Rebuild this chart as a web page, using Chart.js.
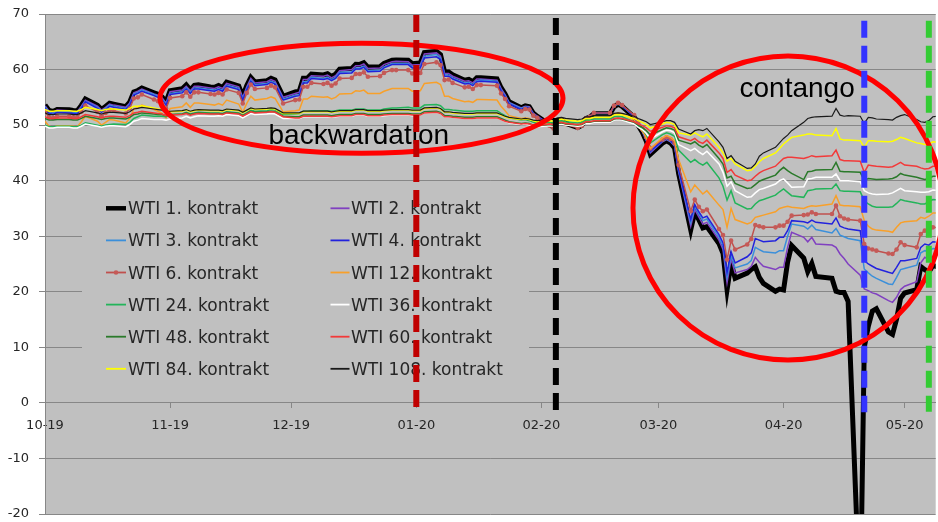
<!DOCTYPE html>
<html>
<head>
<meta charset="utf-8">
<script src="https://cdn.jsdelivr.net/npm/chart.js@4.4.1/dist/chart.umd.min.js"></script>
<style>
  html, body { margin: 0; padding: 0; background: #ffffff; }
  #wrap { width: 938px; height: 522px; position: relative; }
</style>
</head>
<body>
<div id="wrap"><canvas id="chart" width="938" height="522"></canvas></div>
<script>
// Trading days, Oct 2019 - May 2020
const dates = [
  '2019-10-01','2019-10-02','2019-10-03','2019-10-04','2019-10-07','2019-10-08','2019-10-09','2019-10-10','2019-10-11','2019-10-14','2019-10-15','2019-10-16','2019-10-17','2019-10-18','2019-10-21','2019-10-22','2019-10-23','2019-10-24','2019-10-25','2019-10-28','2019-10-29','2019-10-30','2019-10-31',
  '2019-11-01','2019-11-04','2019-11-05','2019-11-06','2019-11-07','2019-11-08','2019-11-11','2019-11-12','2019-11-13','2019-11-14','2019-11-15','2019-11-18','2019-11-19','2019-11-20','2019-11-21','2019-11-22','2019-11-25','2019-11-26','2019-11-27','2019-11-29',
  '2019-12-02','2019-12-03','2019-12-04','2019-12-05','2019-12-06','2019-12-09','2019-12-10','2019-12-11','2019-12-12','2019-12-13','2019-12-16','2019-12-17','2019-12-18','2019-12-19','2019-12-20','2019-12-23','2019-12-24','2019-12-26','2019-12-27','2019-12-30','2019-12-31',
  '2020-01-02','2020-01-03','2020-01-06','2020-01-07','2020-01-08','2020-01-09','2020-01-10','2020-01-13','2020-01-14','2020-01-15','2020-01-16','2020-01-17','2020-01-21','2020-01-22','2020-01-23','2020-01-24','2020-01-27','2020-01-28','2020-01-29','2020-01-30','2020-01-31',
  '2020-02-03','2020-02-04','2020-02-05','2020-02-06','2020-02-07','2020-02-10','2020-02-11','2020-02-12','2020-02-13','2020-02-14','2020-02-18','2020-02-19','2020-02-20','2020-02-21','2020-02-24','2020-02-25','2020-02-26','2020-02-27','2020-02-28',
  '2020-03-02','2020-03-03','2020-03-04','2020-03-05','2020-03-06','2020-03-09','2020-03-10','2020-03-11','2020-03-12','2020-03-13','2020-03-16','2020-03-17','2020-03-18','2020-03-19','2020-03-20','2020-03-23','2020-03-24','2020-03-25','2020-03-26','2020-03-27','2020-03-30','2020-03-31',
  '2020-04-01','2020-04-02','2020-04-03','2020-04-06','2020-04-07','2020-04-08','2020-04-09','2020-04-13','2020-04-14','2020-04-15','2020-04-16','2020-04-17','2020-04-20','2020-04-21','2020-04-22','2020-04-23','2020-04-24','2020-04-27','2020-04-28','2020-04-29','2020-04-30',
  '2020-05-01','2020-05-04','2020-05-05','2020-05-06','2020-05-07','2020-05-08','2020-05-11'
];

// Settlement prices (USD/bbl) per contract month on the futures curve
const wti1 = [
  53.62,52.64,52.45,52.81,52.75,52.63,52.59,53.55,54.70,53.59,52.81,53.36,53.93,53.78,53.31,54.16,55.97,56.23,56.66,55.81,55.54,55.06,54.18,
  56.20,56.54,57.23,56.35,57.15,57.24,56.86,56.80,57.12,56.77,57.72,57.05,55.21,57.11,58.58,57.77,58.01,58.41,58.11,55.17,
  55.96,56.10,58.43,58.43,59.20,59.02,59.24,58.76,59.18,60.07,60.21,60.94,60.93,61.22,60.44,60.52,61.11,61.68,61.72,61.68,61.06,
  61.18,63.05,63.27,62.70,59.61,59.56,59.04,58.08,58.23,57.81,58.52,58.54,58.34,56.74,55.59,54.19,53.14,53.48,53.33,52.14,51.56,
  50.11,49.61,50.75,50.95,50.32,49.57,49.94,51.17,51.42,52.05,52.05,53.29,53.78,53.38,51.43,49.90,48.73,47.09,44.76,
  46.75,47.18,46.78,45.90,41.28,31.13,34.36,32.98,31.50,31.73,28.70,26.95,20.37,25.22,22.43,23.36,24.01,24.49,22.60,21.51,20.09,20.48,
  20.31,25.32,28.34,26.08,23.63,25.09,22.76,22.41,20.11,19.87,19.87,18.27,-37.63,10.01,13.78,16.50,16.94,12.78,12.34,15.06,18.84,
  19.78,20.39,24.56,23.99,23.55,24.74,24.14
];
const wti2 = [
  53.5,52.5,52.3,52.7,52.6,52.5,52.4,53.4,54.5,53.4,52.7,53.2,53.8,53.6,53.2,54.0,55.8,56.1,56.5,55.6,55.4,54.9,54.0,
  56.0,56.3,57.0,56.2,57.0,57.0,56.7,56.6,56.9,56.6,57.5,56.9,55.0,56.9,58.4,57.6,57.8,58.2,57.9,55.0,
  55.7,55.9,58.2,58.2,58.9,58.8,59.0,58.5,58.9,59.8,60.0,60.7,60.7,61.0,60.2,60.3,60.9,61.4,61.5,61.4,60.8,
  60.9,62.8,63.0,62.4,59.3,59.3,58.8,57.9,58.0,57.6,58.3,58.3,58.1,56.6,55.5,54.1,53.1,53.4,53.3,52.1,51.6,
  50.2,49.7,50.8,51.0,50.4,49.7,50.1,51.3,51.6,52.2,52.2,53.4,53.9,53.5,51.5,50.0,48.8,47.2,45.0,
  47.0,47.4,47.0,46.2,41.6,31.8,34.8,33.5,32.2,32.5,29.3,27.6,21.6,25.9,23.4,24.0,24.6,26.2,25.3,24.6,24.0,24.4,
  24.4,28.0,30.7,29.8,29.0,29.8,28.6,28.4,28.0,26.8,26.0,25.0,23.0,20.5,20.2,19.8,19.6,18.4,18.1,19.0,20.4,
  21.0,21.8,25.2,26.2,25.8,26.4,26.0
];
const wti3 = [
  53.3,52.3,52.1,52.5,52.4,52.3,52.2,53.2,54.3,53.2,52.5,53.0,53.6,53.4,53.0,53.8,55.6,55.9,56.3,55.5,55.2,54.7,53.8,
  55.7,56.0,56.7,55.9,56.7,56.7,56.4,56.3,56.6,56.3,57.2,56.6,54.7,56.6,58.1,57.3,57.5,57.9,57.6,54.7,
  55.4,55.5,57.8,57.8,58.6,58.4,58.6,58.2,58.6,59.5,59.6,60.3,60.3,60.6,59.8,59.9,60.5,61.1,61.1,61.1,60.5,
  60.6,62.4,62.7,62.1,59.1,59.0,58.5,57.6,57.7,57.3,58.0,58.1,57.9,56.4,55.3,54.0,53.0,53.3,53.2,52.0,51.4,
  50.1,49.6,50.8,51.0,50.4,49.6,50.0,51.2,51.5,52.1,52.1,53.4,53.8,53.4,51.6,50.1,48.9,47.3,45.2,
  47.1,47.5,47.1,46.3,41.8,32.4,35.3,34.0,32.8,33.1,29.8,28.2,22.6,26.5,24.3,25.0,25.6,28.0,27.6,27.2,27.0,27.4,
  27.4,30.0,32.2,31.8,31.3,32.0,31.2,30.6,31.4,30.2,29.9,29.6,29.2,24.1,23.4,22.8,22.4,21.4,21.3,22.6,24.0,
  24.2,24.8,27.0,27.4,27.2,27.8,27.5
];
const wti4 = [
  53.1,52.1,51.9,52.3,52.2,52.1,52.0,53.0,54.2,53.0,52.3,52.8,53.4,53.2,52.8,53.6,55.4,55.7,56.1,55.3,55.0,54.5,53.6,
  55.5,55.8,56.5,55.7,56.5,56.5,56.2,56.1,56.4,56.1,57.0,56.4,54.5,56.4,57.9,57.1,57.3,57.7,57.4,54.5,
  55.2,55.3,57.6,57.6,58.4,58.2,58.4,58.0,58.4,59.3,59.4,60.1,60.1,60.4,59.6,59.7,60.3,60.9,60.9,60.9,60.3,
  60.3,62.1,62.3,61.8,58.8,58.8,58.3,57.4,57.5,57.1,57.8,57.9,57.7,56.2,55.1,53.8,52.8,53.2,53.1,51.9,51.4,
  50.2,49.7,50.8,51.0,50.4,49.7,50.1,51.3,51.6,52.2,52.2,53.4,53.9,53.5,51.6,50.1,49.0,47.4,45.3,
  47.2,47.6,47.2,46.4,42.0,33.0,35.7,34.4,33.3,33.6,30.3,28.8,23.5,27.2,25.2,26.3,27.0,29.6,29.3,29.0,29.2,29.8,
  29.8,31.0,32.8,32.6,32.4,32.9,32.5,32.2,33.3,31.8,31.5,31.3,31.0,25.6,25.0,24.6,24.2,23.5,23.3,24.4,25.6,
  25.6,26.0,28.0,28.6,28.4,29.0,28.8
];
const wti6 = [
  52.4,51.4,51.3,51.6,51.6,51.4,51.4,52.4,53.5,52.4,51.6,52.2,52.7,52.6,52.1,53.0,54.8,55.0,55.5,54.6,54.3,53.9,53.0,
  54.9,55.2,55.9,55.1,55.9,55.9,55.6,55.5,55.8,55.5,56.4,55.8,53.9,55.8,57.3,56.5,56.7,57.1,56.8,53.9,
  54.5,54.6,56.9,56.9,57.6,57.4,57.6,57.1,57.5,58.4,58.5,59.2,59.2,59.5,58.7,58.8,59.4,59.9,59.9,59.9,59.3,
  59.4,61.0,61.3,60.8,58.1,58.2,57.6,56.8,56.9,56.5,57.2,57.2,57.1,55.7,54.7,53.4,52.5,52.9,52.8,51.7,51.3,
  49.9,49.4,50.6,50.8,50.2,49.5,49.9,51.2,51.5,52.2,52.2,53.5,54.0,53.6,51.8,50.4,49.3,47.8,45.8,
  47.4,47.8,47.5,46.8,42.8,34.5,36.6,35.3,34.5,34.8,31.3,30.2,25.8,29.2,27.6,28.5,29.5,32.0,31.8,31.6,31.6,31.9,
  31.9,32.6,33.7,33.8,33.9,34.3,34.0,34.0,35.5,33.6,33.2,33.0,32.8,28.6,27.8,27.6,27.4,26.9,26.8,27.6,28.9,
  28.4,28.0,30.4,31.0,30.8,31.6,31.4
];
const wti12 = [
  50.7,49.8,49.6,49.9,49.9,49.8,49.7,50.6,51.6,50.7,50.0,50.5,51.0,50.9,50.4,51.2,52.9,53.2,53.6,52.8,52.5,52.1,51.3,
  53.0,53.3,54.0,53.2,54.0,54.0,53.7,53.6,53.9,53.6,54.5,53.8,52.3,53.9,55.2,54.5,54.8,55.1,54.8,52.4,
  52.6,52.7,54.7,54.7,55.2,55.0,55.1,54.7,55.0,55.6,55.7,56.2,56.1,56.3,55.7,55.7,56.1,56.6,56.6,56.6,56.1,
  56.2,57.5,57.7,57.3,55.2,55.2,54.8,54.2,54.3,54.1,54.6,54.6,54.5,53.4,52.6,51.7,51.2,51.3,51.2,50.7,50.5,
  50.3,50.0,50.6,50.8,50.4,50.0,50.2,50.8,51.0,51.3,51.3,51.9,52.2,52.0,50.9,49.8,48.9,47.7,45.8,
  47.7,48.1,47.8,47.2,43.8,38.0,39.2,38.4,37.6,38.2,35.6,34.8,31.6,35.0,33.0,32.2,32.5,33.4,33.6,33.8,34.4,35.0,
  35.2,35.4,35.2,35.0,35.3,35.5,35.4,35.8,37.3,35.6,35.5,35.5,35.3,32.8,31.8,31.3,31.1,30.9,30.7,31.6,32.4,
  32.6,32.8,33.4,33.2,33.6,34.2,34.1
];
const wti24 = [
  50.0,49.7,49.7,49.8,49.8,49.7,49.7,50.0,50.4,50.0,49.8,50.0,50.1,50.2,50.1,50.5,51.2,51.5,51.8,51.6,51.6,51.6,51.5,
  51.8,52.0,52.3,52.0,52.2,52.3,52.2,52.2,52.2,52.1,52.4,52.2,51.8,52.2,52.7,52.5,52.6,52.8,52.7,51.9,
  52.0,52.1,52.5,52.5,52.6,52.6,52.6,52.5,52.6,52.7,52.7,52.9,52.9,52.9,52.7,52.7,52.9,53.1,53.1,53.2,53.1,
  53.1,53.6,53.7,53.5,52.8,52.8,52.7,52.5,52.5,52.5,52.6,52.6,52.6,52.1,51.7,51.3,50.9,51.0,50.8,50.5,50.3,
  50.5,50.4,50.7,50.8,50.6,50.4,50.5,50.9,50.9,51.1,51.1,51.5,51.6,51.5,50.6,49.8,49.2,48.3,46.8,
  48.3,48.6,48.4,48.0,45.5,43.3,43.8,43.2,42.8,43.3,40.5,39.0,36.5,38.2,36.0,34.9,35.0,35.8,36.4,36.6,37.4,38.0,
  38.5,37.9,37.3,37.0,38.2,38.3,38.5,38.6,39.4,38.2,38.1,38.1,38.0,36.4,35.8,35.4,35.2,35.2,35.3,35.9,36.6,
  36.4,36.0,35.8,35.8,36.2,36.6,36.5
];
const wti36 = [
  49.8,49.5,49.5,49.6,49.6,49.5,49.5,49.8,50.2,49.8,49.6,49.8,49.9,49.9,49.7,50.1,50.7,50.9,51.2,51.0,51.0,51.0,50.9,
  51.1,51.3,51.6,51.3,51.5,51.7,51.6,51.6,51.7,51.6,51.9,51.7,51.3,51.7,52.1,51.9,52.0,52.1,52.0,51.2,
  51.2,51.2,51.5,51.5,51.5,51.5,51.5,51.4,51.5,51.6,51.6,51.8,51.8,51.8,51.6,51.6,51.7,51.8,51.8,51.8,51.7,
  51.8,52.2,52.3,52.1,51.5,51.5,51.4,51.2,51.2,51.2,51.3,51.3,51.3,51.0,50.7,50.4,50.1,50.1,50.0,49.8,49.7,
  49.9,49.8,50.1,50.2,50.0,49.8,49.9,50.3,50.3,50.5,50.5,50.9,51.0,50.9,50.2,49.6,49.2,48.5,47.5,
  48.8,49.1,49.0,48.6,46.5,45.4,45.8,45.2,44.7,45.3,43.0,41.5,39.0,39.8,38.2,37.0,37.1,37.8,38.4,38.6,39.4,40.0,
  40.3,39.6,38.8,38.9,40.3,40.4,40.6,40.6,41.2,40.0,40.0,40.0,39.8,38.2,37.8,37.6,37.5,37.6,37.8,38.2,38.6,
  38.2,38.0,37.9,37.9,38.0,38.3,38.2
];
const wti48 = [
  51.2,50.9,50.9,51.0,51.0,50.9,50.9,51.2,51.6,51.2,51.0,51.2,51.3,51.3,51.1,51.4,51.9,52.0,52.2,52.0,51.9,51.9,51.7,
  51.9,52.0,52.2,51.9,52.1,52.2,52.1,52.1,52.1,52.0,52.3,52.1,51.7,52.1,52.5,52.3,52.4,52.5,52.4,51.6,
  51.5,51.5,51.8,51.8,51.8,51.8,51.8,51.7,51.8,51.9,51.9,52.1,52.1,52.1,51.9,51.9,52.0,52.1,52.1,52.1,52.0,
  52.0,52.4,52.5,52.3,51.7,51.7,51.6,51.4,51.4,51.4,51.5,51.5,51.5,51.2,50.9,50.6,50.3,50.4,50.3,50.0,49.9,
  50.1,50.0,50.3,50.4,50.2,50.0,50.1,50.5,50.5,50.7,50.7,51.1,51.2,51.1,50.5,50.0,49.6,49.0,48.2,
  49.2,49.5,49.4,49.1,47.3,46.6,47.0,46.4,46.0,46.5,44.0,43.0,40.5,40.8,39.5,38.6,38.7,39.3,39.9,40.2,41.0,41.8,
  42.4,41.8,41.3,40.2,41.6,41.7,41.9,42.0,43.3,41.7,41.6,41.6,41.5,40.0,40.4,40.3,40.2,40.3,40.4,40.7,41.3,
  41.0,40.6,40.4,40.2,40.4,40.8,40.7
];
const wti60 = [
  51.5,51.2,51.2,51.3,51.3,51.2,51.2,51.5,51.9,51.5,51.3,51.5,51.6,51.6,51.4,51.7,52.2,52.3,52.5,52.2,52.1,52.0,51.7,
  51.8,51.9,52.1,51.8,52.0,52.1,52.0,52.0,52.0,51.9,52.2,52.0,51.6,52.0,52.4,52.2,52.3,52.4,52.3,51.5,
  51.3,51.3,51.6,51.6,51.6,51.6,51.6,51.5,51.6,51.7,51.7,51.9,51.9,51.9,51.7,51.7,51.8,51.9,51.9,51.9,51.8,
  51.8,52.2,52.3,52.1,51.5,51.5,51.4,51.2,51.2,51.2,51.3,51.3,51.3,51.0,50.7,50.5,50.2,50.3,50.2,50.0,49.9,
  50.2,50.1,50.4,50.5,50.3,50.1,50.2,50.6,50.6,50.8,50.8,51.2,51.3,51.2,50.6,50.2,49.9,49.5,48.9,
  49.6,49.9,49.8,49.5,47.9,47.2,47.6,47.0,46.7,47.3,45.0,44.0,41.5,42.0,41.0,40.0,40.1,40.8,41.4,41.8,42.6,43.3,
  44.0,44.2,44.2,44.0,44.2,44.5,44.3,44.5,45.5,43.8,43.6,43.6,43.5,41.5,42.8,42.7,42.6,42.4,42.5,42.9,43.3,
  42.8,42.6,42.3,42.1,42.2,42.6,42.5
];
const wti84 = [
  52.8,52.5,52.5,52.6,52.6,52.5,52.5,52.8,53.2,52.8,52.6,52.8,52.9,52.9,52.7,53.0,53.4,53.4,53.5,53.1,52.9,52.8,52.4,
  52.4,52.5,52.7,52.4,52.6,52.7,52.6,52.6,52.6,52.5,52.8,52.6,52.2,52.6,53.0,52.8,52.9,53.0,52.9,52.1,
  52.1,52.1,52.4,52.4,52.4,52.4,52.4,52.3,52.4,52.5,52.5,52.7,52.7,52.7,52.5,52.5,52.6,52.7,52.7,52.7,52.6,
  52.6,53.0,53.1,52.9,52.3,52.3,52.2,52.0,52.0,52.0,52.1,52.1,52.1,51.8,51.5,51.3,51.0,51.1,51.0,50.8,50.6,
  50.8,50.7,51.0,51.1,50.9,50.7,50.8,51.2,51.2,51.4,51.4,51.8,51.9,51.8,51.2,50.8,50.5,50.1,49.5,
  50.2,50.5,50.4,50.1,48.6,48.2,48.6,48.2,47.9,48.4,46.0,45.0,43.5,44.0,43.0,41.8,41.9,42.6,43.4,44.0,45.0,45.8,
  46.6,47.2,47.8,48.2,48.4,48.4,48.2,48.1,49.4,47.5,47.3,47.3,47.2,46.0,47.2,47.2,47.1,47.0,47.1,47.4,47.8,
  47.6,46.8,46.7,46.5,46.6,47.0,46.9
];
const wti108 = [
  52.2,51.9,51.9,52.0,52.0,51.9,51.9,52.2,52.6,52.2,52.0,52.2,52.3,52.3,52.1,52.4,52.9,53.0,53.2,52.9,52.8,52.7,52.3,
  52.5,52.6,52.8,52.5,52.7,52.8,52.7,52.7,52.7,52.6,52.9,52.7,52.3,52.7,53.1,52.9,53.0,53.1,53.0,52.2,
  52.2,52.2,52.5,52.5,52.5,52.5,52.5,52.4,52.5,52.6,52.6,52.8,52.8,52.8,52.6,52.6,52.7,52.8,52.8,52.8,52.7,
  52.7,53.1,53.2,53.0,52.4,52.4,52.3,52.1,52.1,52.1,52.2,52.2,52.2,51.9,51.6,51.4,51.1,51.2,51.1,50.9,50.8,
  51.1,51.0,51.3,51.4,51.2,51.0,51.1,51.5,51.5,51.7,51.7,52.1,52.2,52.1,51.6,51.2,50.9,50.6,50.1,
  50.6,50.8,50.8,50.5,49.3,48.4,49.0,49.2,49.0,49.4,47.0,46.0,44.0,44.5,43.5,42.2,42.3,43.0,44.4,45.0,46.0,46.8,
  47.6,48.2,49.0,50.5,51.2,51.4,51.5,51.6,53.0,51.8,51.6,51.7,51.6,50.3,51.4,51.3,51.1,51.0,50.9,51.4,51.7,
  51.9,51.0,50.6,50.5,50.8,51.5,51.8
];

// Axis labels: first day of each month
const tickDates = ['2019-10-01','2019-11-01','2019-12-01','2020-01-01','2020-02-01','2020-03-01','2020-04-01','2020-05-01'];
const tickLabels = ['10-19','11-19','12-19','01-20','02-20','03-20','04-20','05-20'];

// Event markers (dashed verticals)
const markerDates = ['2020-01-01','2020-02-04T14:00Z','2020-04-21','2020-05-07'];

// ---------------------------------------------------------------------------
const DAY_MS = 86400000;
const ORIGIN = Date.parse('2019-10-01');
const dayOf = s => (Date.parse(s) - ORIGIN) / DAY_MS;
const xs = dates.map(dayOf);

const GRID = '#878787';
const TEXT = '#262626';
const PLOT_BG = '#c0c0c0';

const seriesDefs = [
  { label: 'WTI 1. kontrakt',   values: wti1,   color: '#000000', width: 5 },
  { label: 'WTI 2. kontrakt',   values: wti2,   color: '#8040c0', width: 1.5 },
  { label: 'WTI 3. kontrakt',   values: wti3,   color: '#3b8fda', width: 1.5 },
  { label: 'WTI 4. kontrakt',   values: wti4,   color: '#2222dd', width: 1.5 },
  { label: 'WTI 6. kontrakt',   values: wti6,   color: '#c0504d', width: 1.5, dots: true },
  { label: 'WTI 12. kontrakt',  values: wti12,  color: '#f8a02a', width: 1.5 },
  { label: 'WTI 24. kontrakt',  values: wti24,  color: '#23b45a', width: 1.5 },
  { label: 'WTI 36. kontrakt',  values: wti36,  color: '#ffffff', width: 1.5 },
  { label: 'WTI 48. kontrakt',  values: wti48,  color: '#2b7a2b', width: 1.5 },
  { label: 'WTI 60. kontrakt',  values: wti60,  color: '#f23a3a', width: 1.5 },
  { label: 'WTI 84. kontrakt',  values: wti84,  color: '#ffff00', width: 1.5 },
  { label: 'WTI 108. kontrakt', values: wti108, color: '#1a1a1a', width: 1.2 }
];

const datasets = seriesDefs.map((s, i) => ({
  label: s.label,
  data: s.values.map((v, j) => ({ x: xs[j], y: v })),
  borderColor: s.color,
  backgroundColor: s.color,
  borderWidth: s.width,
  pointRadius: s.dots ? 2.3 : 0,
  pointHoverRadius: 0,
  pointBackgroundColor: s.dots ? '#c55a57' : s.color,
  pointBorderWidth: 0,
  tension: 0,
  fill: false,
  clip: 0,
  order: seriesDefs.length - i   // first contract sits underneath
}));

// Background, in-plot legend and annotations
const decorations = {
  id: 'decorations',
  beforeDraw(chart) {
    const { ctx, chartArea: a } = chart;
    ctx.save();
    ctx.fillStyle = PLOT_BG;
    ctx.fillRect(a.left, a.top, a.right - a.left, a.bottom - a.top);
    ctx.restore();
  },
  beforeDatasetsDraw(chart) {
    const { ctx } = chart;
    ctx.save();
    // legend panel hides the gridlines behind it
    ctx.fillStyle = PLOT_BG;
    ctx.fillRect(82, 186, 447, 210);
    const cols = [ { l0: 106, l1: 126, tx: 128 }, { l0: 330.5, l1: 349.5, tx: 351 } ];
    ctx.font = '17px "DejaVu Sans"';
    ctx.textBaseline = 'alphabetic';
    ctx.textAlign = 'left';
    seriesDefs.forEach((s, i) => {
      const c = cols[i % 2];
      const base = 214.3 + 32.1 * Math.floor(i / 2);
      const ly = base - 6;
      ctx.strokeStyle = s.color;
      ctx.lineWidth = s.width === 5 ? 4.5 : 1.8;
      ctx.beginPath();
      ctx.moveTo(c.l0, ly);
      ctx.lineTo(c.l1, ly);
      ctx.stroke();
      if (s.dots) {
        ctx.fillStyle = '#c55a57';
        ctx.beginPath();
        ctx.arc((c.l0 + c.l1) / 2, ly, 2.3, 0, Math.PI * 2);
        ctx.fill();
      }
      ctx.fillStyle = TEXT;
      ctx.fillText(s.label, c.tx, base);
    });
    ctx.restore();
  },
  afterDatasetsDraw(chart) {
    const { ctx } = chart;
    const x = chart.scales.x, y = chart.scales.y;
    ctx.save();
    // annotation labels
    ctx.fillStyle = '#000000';
    ctx.font = '28px "Liberation Sans", Arial, sans-serif';
    ctx.textAlign = 'left';
    ctx.textBaseline = 'alphabetic';
    ctx.fillText('backwardation', 268.5, 144);
    ctx.fillText('contango', 739.5, 97);
    // highlight ellipses
    ctx.strokeStyle = '#ff0000';
    ctx.lineWidth = 5;
    ctx.beginPath();
    ctx.ellipse(361.5, 98.3, 201.5, 55, 0, 0, Math.PI * 2);
    ctx.stroke();
    ctx.beginPath();
    ctx.ellipse(788, 208, 155, 152, 0, 0, Math.PI * 2);
    ctx.stroke();
    // dashed event markers
    const mk = [
      { color: '#c00000', top: 69.8, bottom: -1.0 },
      { color: '#000000', top: 69.3, bottom: -1.3 },
      { color: '#3333ff', top: 68.8, bottom: -1.7 },
      { color: '#33cc33', top: 68.8, bottom: -1.6 }
    ];
    ctx.lineWidth = 6;
    ctx.setLineDash([17, 8]);
    markerDates.forEach((d, i) => {
      const px = x.getPixelForValue(dayOf(d));
      ctx.strokeStyle = mk[i].color;
      ctx.beginPath();
      ctx.moveTo(px, y.getPixelForValue(mk[i].top));
      ctx.lineTo(px, y.getPixelForValue(mk[i].bottom));
      ctx.stroke();
    });
    ctx.restore();
  }
};

const tickFont = { family: '"DejaVu Sans"', size: 13 };

new Chart(document.getElementById('chart'), {
  type: 'line',
  data: { datasets },
  options: {
    responsive: false,
    devicePixelRatio: 1,
    animation: false,
    events: [],
    layout: { padding: { left: 0, right: 0, top: 14, bottom: 8 } },
    plugins: { legend: { display: false }, tooltip: { enabled: false }, title: { display: false } },
    scales: {
      x: {
        type: 'linear',
        min: 0,
        max: 220.7,
        position: { y: 0 },
        afterBuildTicks: s => { s.ticks = tickDates.map(d => ({ value: dayOf(d) })); },
        ticks: {
          autoSkip: false,
          maxRotation: 0,
          padding: 10,
          color: TEXT,
          font: tickFont,
          callback: (v) => {
            const k = tickDates.findIndex(d => Math.abs(dayOf(d) - v) < 0.01);
            return k >= 0 ? tickLabels[k] : '';
          }
        },
        grid: { drawOnChartArea: false, drawTicks: true, tickLength: 5, color: GRID },
        border: { display: true, color: GRID, width: 1 }
      },
      y: {
        type: 'linear',
        position: 'left',
        min: -20,
        max: 70,
        afterFit: s => { s.width = 45; s.paddingTop = 0; s.paddingBottom = 0; },
        ticks: { stepSize: 10, padding: 10, color: TEXT, font: tickFont, callback: v => String(v) },
        grid: { color: GRID, drawTicks: true, tickLength: 6, lineWidth: 1 },
        border: { display: true, color: GRID, width: 1 }
      }
    }
  },
  plugins: [decorations]
});
</script>
</body>
</html>
